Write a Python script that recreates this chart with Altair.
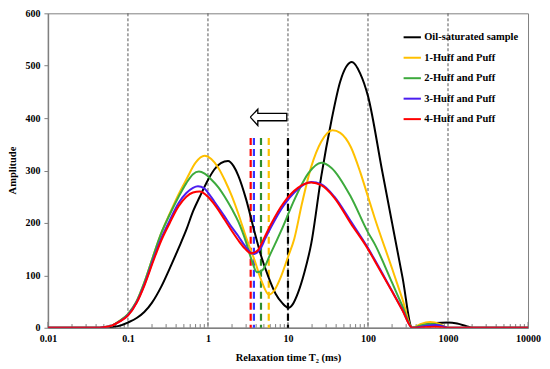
import altair as alt
import pandas as pd

# ---------------- data ----------------
series_names = ["Oil-saturated sample", "1-Huff and Puff", "2-Huff and Puff",
                "3-Huff and Puff", "4-Huff and Puff"]
series_colors = ["#000000", "#FFC000", "#3DAA3D", "#4B1EF0", "#FF0000"]

oil_t2 = [0.01, 0.045, 0.06, 0.08, 0.1, 0.13, 0.16, 0.2, 0.26, 0.33, 0.43, 0.54, 0.65,
          0.79, 1.0, 1.2, 1.45, 1.78, 2.1, 2.4, 3.0, 3.8, 4.6, 5.6, 7.0, 8.5, 10.2,
          11.5, 13.3, 16, 19.5, 26, 35, 45, 63, 80, 100, 150, 200, 270, 357, 500,
          700, 1000, 1300, 1700, 2000, 10000]
oil_amp = [0, 0, 1, 4, 10, 19, 30, 48, 78, 112, 152, 188, 222,
           250, 282, 302, 314, 318, 308, 290, 245, 184, 138, 100, 65, 47, 38,
           45, 66, 105, 160, 288, 396, 470, 507, 485, 442, 300, 200, 96, 0, 5,
           9, 10, 8, 3, 0, 0]

huff1_t2 = [0.01, 0.04, 0.05, 0.063, 0.079, 0.1, 0.128, 0.16, 0.206, 0.26, 0.333, 0.43,
            0.537, 0.7, 0.91, 1.1, 1.35, 1.62, 2.0, 2.39, 3.0, 3.8, 4.6, 5.8, 6.8,
            8.2, 10, 12, 15, 19.5, 26, 36, 45, 61, 80, 100, 121, 200, 270, 357, 450,
            600, 800, 1000, 10000]
huff1_amp = [0, 0, 1, 4, 13, 26, 50, 86, 136, 180, 218, 255,
             283, 315, 328, 322, 305, 282, 250, 218, 172, 130, 92, 63, 72,
             98, 135, 170, 238, 307, 355, 377, 372, 345, 297, 250, 210, 113, 54, 0, 7,
             11, 7, 0, 0]

huff2_t2 = [0.01, 0.04, 0.05, 0.063, 0.079, 0.1, 0.128, 0.16, 0.206, 0.26, 0.333, 0.43,
            0.537, 0.65, 0.77, 0.91, 1.1, 1.35, 1.62, 2.0, 2.39, 3.0, 3.5, 4.1, 4.8,
            6.0, 8.5, 12, 18, 26, 35, 61, 100, 121, 200, 270, 357, 450, 600, 800,
            1000, 10000]
huff2_amp = [0, 0, 1, 4, 13, 26, 50, 86, 136, 180, 216, 250,
             276, 293, 298, 294, 283, 268, 250, 226, 203, 163, 130, 106, 110,
             140, 190, 244, 295, 315, 305, 250, 182, 160, 86, 41, 0, 4, 7, 5,
             0, 0]

huff3_t2 = [0.01, 0.04, 0.05, 0.063, 0.079, 0.1, 0.128, 0.16, 0.206, 0.26, 0.333, 0.43,
            0.537, 0.65, 0.75, 0.9, 1.0, 1.21, 1.62, 2.0, 2.39, 2.9, 3.7, 4.5, 5.2,
            6.2, 8.8, 12, 19.5, 26, 38, 61, 100, 121, 200, 270, 357, 500, 700, 900,
            1000, 10000]
huff3_amp = [0, 0, 1, 4, 12, 24, 48, 82, 129, 170, 205, 238,
             257, 267, 270, 266, 258, 240, 212, 191, 175, 156, 141, 150, 170,
             193, 233, 258, 278, 274, 250, 203, 152, 130, 70, 34, 0, 3, 5, 2,
             0, 0]

huff4_t2 = [0.01, 0.04, 0.05, 0.063, 0.079, 0.1, 0.128, 0.16, 0.206, 0.26, 0.333, 0.43,
            0.537, 0.65, 0.787, 1.0, 1.21, 1.62, 2.0, 2.39, 2.9, 3.47, 4.2, 5.0, 6.2,
            8.8, 13.3, 19.5, 26, 38, 61, 100, 121, 200, 270, 357, 500, 700, 1000,
            10000]
huff4_amp = [0, 0, 1, 4, 12, 23, 47, 80, 126, 166, 200, 232,
             250, 258, 260, 250, 235, 206, 184, 167, 151, 142, 148, 170, 199,
             238, 267, 277, 272, 248, 199, 150, 128, 69, 33, 0, 1, 2, 0,
             0]

# vertical reference lines
grid_t2 = [0.1, 1, 10, 100, 1000]
marker_t2 = [3.42, 3.75, 4.6, 5.75, 10]
marker_colors = ["#FF0000", "#3333FF", "#2E8B2E", "#FFC000", "#000000"]
marker_top = 362

# hollow arrow outline (T2, amplitude)
arrow_t2 = [3.38, 4.2, 4.2, 9.66, 9.66, 4.2, 4.2, 3.38]
arrow_amp = [402, 417, 409, 409, 395, 395, 386, 402]

x_labels = [0.01, 0.1, 1, 10, 100, 1000, 10000]
y_ticks = [0, 100, 200, 300, 400, 500, 600]
minor_ticks = [m * d for d in [0.01, 0.1, 1, 10, 100, 1000] for m in range(2, 10)]

# ---------------- build tables ----------------
curves = []
for name, t2s, amps in [(series_names[0], oil_t2, oil_amp),
                        (series_names[1], huff1_t2, huff1_amp),
                        (series_names[2], huff2_t2, huff2_amp),
                        (series_names[3], huff3_t2, huff3_amp),
                        (series_names[4], huff4_t2, huff4_amp)]:
    for i, (t, a) in enumerate(zip(t2s, amps)):
        curves.append({"series": name, "t2": t, "amp": a, "i": i})
curve_df = pd.DataFrame(curves)

FONT = "Liberation Serif"

xscale = alt.Scale(type="log", domain=[0.01, 10000], nice=False)
yscale = alt.Scale(domain=[0, 600], nice=False)
cscale = alt.Scale(domain=series_names, range=series_colors)

xaxis = alt.Axis(values=x_labels, labelExpr="format(datum.value, '')", ticks=False,
                 grid=False, title="Relaxation time T₂ (ms)", labelFont=FONT,
                 labelFontWeight="bold", labelFontSize=10, labelColor="#000",
                 titleFont=FONT, titleFontWeight="bold", titleFontSize=10.5,
                 titleColor="#000", labelPadding=6, titlePadding=9,
                 domainColor="#808080", domainWidth=1.5, labelFlush=False)
yaxis = alt.Axis(values=y_ticks, grid=False, title="Amplitude", labelFont=FONT,
                 labelFontWeight="bold", labelFontSize=10, labelColor="#000",
                 titleFont=FONT, titleFontWeight="bold", titleFontSize=10.5,
                 titleColor="#000", tickColor="#808080", tickSize=4,
                 domainColor="#808080", domainWidth=1.5,
                 titleX=-30, titleY=157, titleAngle=270, titleBaseline="bottom",
                 titleAlign="center", labelPadding=4)

grid = alt.Chart(pd.DataFrame({"t2": grid_t2})).mark_rule(
    color="#555555", strokeDash=[3, 2], strokeWidth=1
).encode(x=alt.X("t2:Q", scale=xscale, axis=xaxis))

minor = alt.Chart(pd.DataFrame({"t2": minor_ticks})).mark_rule(
    color="#808080", strokeWidth=1
).encode(x=alt.X("t2:Q", scale=xscale),
         y=alt.datum(0, scale=yscale), y2=alt.datum(7))

major = alt.Chart(pd.DataFrame({"t2": x_labels})).mark_rule(
    color="#808080", strokeWidth=1
).encode(x=alt.X("t2:Q", scale=xscale),
         y=alt.datum(0, scale=yscale), y2=alt.datum(11))

marker_layers = []
for t, c in zip(marker_t2, marker_colors):
    marker_layers.append(
        alt.Chart(pd.DataFrame({"t2": [t], "top": [marker_top]})).mark_rule(
            strokeWidth=2.2, strokeDash=[7, 4], color=c
        ).encode(
            x=alt.X("t2:Q", scale=xscale),
            y=alt.Y("top:Q", scale=yscale),
            y2=alt.datum(0),
        )
    )

arrow = alt.Chart(pd.DataFrame({"t2": arrow_t2, "amp": arrow_amp,
                                "o": list(range(len(arrow_t2)))})).mark_line(
    color="#000", strokeWidth=1.3
).encode(x=alt.X("t2:Q", scale=xscale), y=alt.Y("amp:Q", scale=yscale),
         order="o:Q")

line_layers = []
for name in series_names:
    line_layers.append(
        alt.Chart(curve_df).transform_filter(alt.datum.series == name).mark_line(
            strokeWidth=2, interpolate="monotone", clip=True
        ).encode(
            x=alt.X("t2:Q", scale=xscale),
            y=alt.Y("amp:Q", scale=yscale, axis=yaxis),
            order="i:Q",
            color=alt.Color("series:N", scale=cscale, legend=alt.Legend(
                title=None, orient="none", legendX=355, legendY=14,
                symbolType="stroke", symbolStrokeWidth=2, symbolSize=300,
                labelFont=FONT, labelFontWeight="bold", labelFontSize=10.5,
                labelColor="#000", rowPadding=4.5, labelOffset=2,
                values=series_names)),
        )
    )

chart = alt.layer(grid, minor, major, *marker_layers, arrow, *line_layers).properties(
    width=481, height=315,
    padding={"left": 40, "top": 5, "right": 14, "bottom": 40},
    autosize=alt.AutoSizeParams(type="none"),
).configure_view(stroke="#808080", strokeWidth=1)

chart.save("out.html", embed_options={"renderer": "svg", "actions": False})
